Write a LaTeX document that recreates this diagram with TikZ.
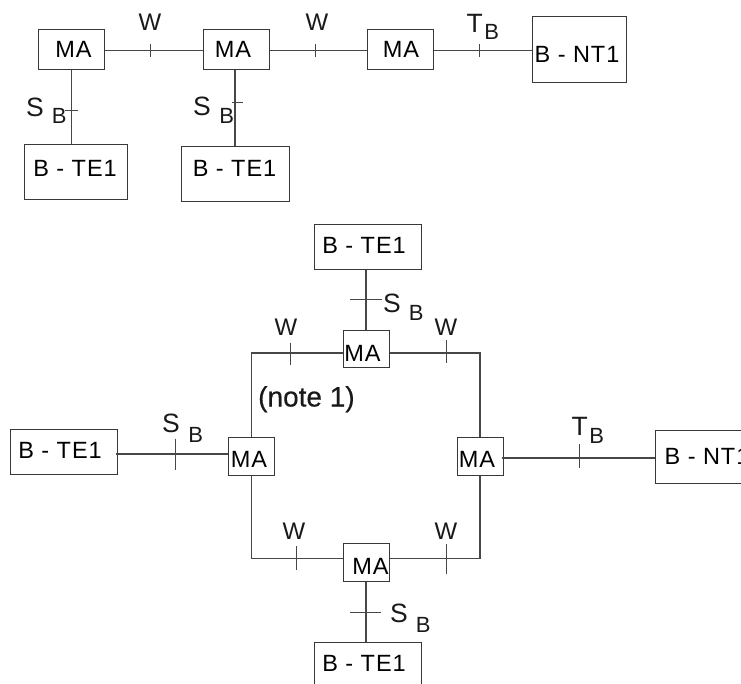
\documentclass[tikz,border=0pt]{standalone}
\usepackage{fontspec}
\setmainfont{Liberation Sans}
\newfontfamily\spacedfont{Liberation Sans}[LetterSpace=4]
\newfontfamily\notefont{Liberation Sans}[FakeBold=0.35]
\newcommand{\tx}[3]{\smash{\raisebox{\dimexpr-8.4pt-#2pt\relax}{\makebox[0pt][c]{\kern\dimexpr 2\dimexpr#1pt\relax\relax\spacedfont\fontsize{23.5}{23.5}\selectfont #3}}}}
\newcommand{\subl}[4]{{\fontsize{26.5}{26.5}\selectfont #1}\kern#2pt\raisebox{-#3pt}{\fontsize{22}{22}\selectfont #4}}
\tikzset{
  bx/.style={draw=black!78,line width=1pt,inner sep=0pt,rectangle},
  con/.style={draw=black!72,line width=1.1pt},
  tk/.style={draw=black!72,line width=0.8pt},
  lab/.style={inner sep=0pt,anchor=base west,text=black!90},
  wlab/.style={inner sep=0pt,anchor=base,font=\fontsize{24}{24}\selectfont,text=black!90}
}
\begin{document}
\begin{tikzpicture}[x=1pt,y=-1pt]
\useasboundingbox (0,0) rectangle (741,684);
\clip (0,0) rectangle (741,684);
% top row
\node[bx,minimum width=66,minimum height=40] (ma1) at (71,50) {\tx{2.5}{-1}{MA}};
\node[bx,minimum width=66,minimum height=40] (ma2) at (236,50) {\tx{-3}{-1}{MA}};
\node[bx,minimum width=66,minimum height=40] (ma3) at (400,50) {\tx{1}{-1}{MA}};
\node[bx,minimum width=94,minimum height=66] (nt1) at (579,50) {\tx{-2}{4}{B - NT1}};
\node[bx,minimum width=103,minimum height=55.5] (te1) at (75.5,172) {\tx{-0.5}{-3.5}{B - TE1}};
\node[bx,minimum width=108,minimum height=55.5] (te2) at (235,174) {\tx{-0.5}{-5.5}{B - TE1}};
\coordinate (t1) at (150,50.5);
\coordinate (t2) at (315,50.5);
\coordinate (t3) at (479,50.5);
\coordinate (t4) at (71.5,110);
\coordinate (t5) at (235,102);
\draw[con] (ma1.east |- t1) -- (t1) -- (ma2.west |- t1);
\draw[con] (ma2.east |- t2) -- (t2) -- (ma3.west |- t2);
\draw[con] (ma3.east |- t3) -- (t3) -- (nt1.west |- t3);
\draw[con] (t4 |- ma1.south) -- (t4) -- (t4 |- te1.north);
\draw[con] (t5 |- ma2.south) -- (t5) -- (t5 |- te2.north);
\draw[tk] (t1) ++(0,-6.5) -- ++(0,13);
\draw[tk] (t2) ++(0,-6.5) -- ++(0,13);
\draw[tk] (t3) ++(0,-6.5) -- ++(0,13);
\draw[tk] (t4) ++(-7,0) -- ++(13,0);
\draw[tk] (t5) ++(-3,0) -- ++(11,0);
\node[wlab] (w1) at (150,31) {W};
\node[wlab] (w2) at (317,31) {W};
\node[lab] (tb1) at (466.5,33) {\subl{T}{1.5}{7}{B}};
\node[lab] (sb1) at (26,117) {\subl{S}{8}{7}{B}};
\node[lab] (sb2) at (193,116) {\subl{S}{8.5}{8}{B}};
% ring
\node[bx,minimum width=107,minimum height=44.5] (teT) at (367.5,247) {\tx{-3.5}{-2}{B - TE1}};
\node[bx,minimum width=46,minimum height=37.7] (maT) at (366,349) {\tx{-3.5}{4}{MA}};
\node[bx,minimum width=46,minimum height=38] (maL) at (251.5,456) {\tx{-2.5}{3.5}{MA}};
\node[bx,minimum width=46,minimum height=38] (maR) at (480,456) {\tx{-3}{3.5}{MA}};
\node[bx,minimum width=46,minimum height=38] (maB) at (366,562.5) {\tx{4.5}{3.5}{MA}};
\node[bx,minimum width=107,minimum height=44.5] (teL) at (63.5,452) {\tx{-3.5}{-2}{B - TE1}};
\node[bx,minimum width=107,minimum height=58] (teB) at (367.5,671) {\tx{-3.5}{-7.5}{B - TE1}};
\node[bx,minimum width=104,minimum height=53] (ntR) at (707,456.5) {\tx{0}{0}{B - NT1}};
\coordinate (cTL) at (251.5,353);
\coordinate (cTR) at (480,353);
\coordinate (cBL) at (251.5,558.5);
\coordinate (cBR) at (480,558.5);
\coordinate (r1) at (290,353);
\coordinate (r2) at (446,353);
\coordinate (r3) at (296.7,558.5);
\coordinate (r4) at (446,558.5);
\coordinate (r5) at (175.7,454);
\coordinate (r6) at (579.5,458);
\coordinate (r7) at (366,299);
\coordinate (r8) at (366,612);
\draw[con] (maL.north) -- (cTL) -- (r1) -- (r1 -| maT.west);
\draw[con] (r2 -| maT.east) -- (r2) -- (cTR) -- (maR.north);
\draw[con] (maL.south) -- (cBL) -- (r3) -- (r3 -| maB.west);
\draw[con] (r4 -| maB.east) -- (r4) -- (cBR) -- (maR.south);
\draw[con,shorten <=-2pt] (r5 -| teL.east) -- (r5) -- (r5 -| maL.west);
\draw[con,shorten <=-2pt] (r6 -| maR.east) -- (r6) -- (r6 -| ntR.west);
\draw[con] (r7 |- teT.south) -- (r7) -- (r7 |- maT.north);
\draw[con] (r8 |- maB.south) -- (r8) -- (r8 |- teB.north);
\draw[tk] (r1) ++(0,-10.5) -- ++(0,22.5);
\draw[tk] (r2) ++(0,-13) -- ++(0,22.5);
\draw[tk] (r3) ++(0,-12.5) -- ++(0,24);
\draw[tk] (r4) ++(0,-14.5) -- ++(0,29.5);
\draw[tk] (r5) ++(0,-15) -- ++(0,31);
\draw[tk] (r6) ++(0,-14) -- ++(0,24);
\draw[tk] (r7) ++(-16,0) -- ++(32,0);
\draw[tk] (r8) ++(-16,0) -- ++(31,0);
\node[wlab] (w3) at (286,335) {W};
\node[wlab] (w4) at (446,335) {W};
\node[wlab] (w5) at (294,539) {W};
\node[wlab] (w6) at (446,539) {W};
\node[lab] (sb3) at (383,312.5) {\subl{S}{8}{7.5}{B}};
\node[lab] (sb4) at (162,432.5) {\subl{S}{8.5}{10}{B}};
\node[lab] (sb5) at (390,622.5) {\subl{S}{8}{10}{B}};
\node[lab] (tb2) at (571.5,435) {\subl{T}{1.5}{8}{B}};
\node[lab,font=\notefont\fontsize{28}{28}\selectfont] (note) at (258,406.5) {(note 1)};
\end{tikzpicture}
\end{document}
